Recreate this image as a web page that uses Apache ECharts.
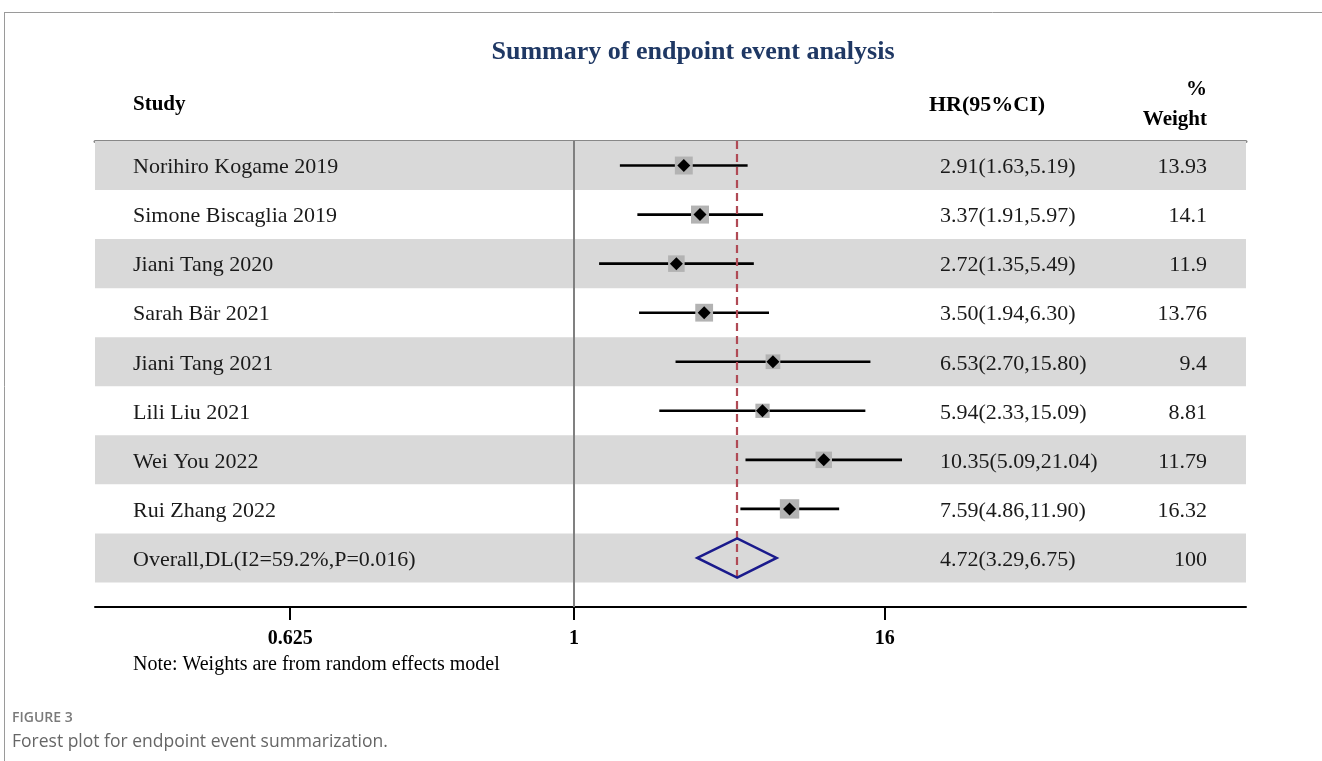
<!DOCTYPE html>
<html>
<head>
<meta charset="utf-8">
<script src="https://cdn.jsdelivr.net/npm/echarts@6/dist/echarts.min.js"></script>
<style>
html,body{margin:0;padding:0;background:#fff;}
#chart{width:1322px;height:761px;}
</style>
</head>
<body>
<div id="chart"></div>
<script>
// ---------------- data ----------------
const studies = ['Norihiro Kogame 2019','Simone Biscaglia 2019','Jiani Tang 2020','Sarah B\u00e4r 2021','Jiani Tang 2021','Lili Liu 2021','Wei You 2022','Rui Zhang 2022','Overall,DL(I2=59.2%,P=0.016)'];
const hr = [2.91, 3.37, 2.72, 3.50, 6.53, 5.94, 10.35, 7.59, 4.72];
const lo = [1.63, 1.91, 1.35, 1.94, 2.70, 2.33, 5.09, 4.86, 3.29];
const hi = [5.19, 5.97, 5.49, 6.30, 15.80, 15.09, 21.04, 11.90, 6.75];
const weights = ['13.93','14.1','11.9','13.76','9.4','8.81','11.79','16.32','100'];
// tick labels and where they sit on the (log-HR) axis
const tickLabels = ['0.625','1','16'];
const tickPos = [-2.50, 0.0725, 2.89];

// ---------------- derived ----------------
const nStudy = 8;
const overallIdx = 8;
const ln = Math.log;
const ciData = [];
const sqData = [];
const ptData = [];
for (let i = 0; i < nStudy; i++) {
  ciData.push([ln(lo[i]), ln(hi[i]), i]);
  sqData.push({value: [ln(hr[i]), i], symbolSize: 4.8 * Math.sqrt(parseFloat(weights[i]))});
  ptData.push([ln(hr[i]), i]);
}
const overallData = [[ln(lo[overallIdx]), ln(hr[overallIdx]), ln(hi[overallIdx]), overallIdx]];
const bandData = [];
for (let i = 0; i < studies.length; i += 2) bandData.push([i]);
const rowData = studies.map((s, i) => [i]);
const hrText = hr.map((h, i) => h.toFixed(2) + '(' + lo[i].toFixed(2) + ',' + hi[i].toFixed(2) + ')');

const SERIF = '"Liberation Serif","Times New Roman",serif';
const SANS = '"Open Sans","Noto Sans",sans-serif';
const chart = echarts.init(document.getElementById('chart'));

const option = {
  animation: false,
  title: {
    text: 'Summary of endpoint event analysis',
    left: 688, top: 34, textAlign: 'center',
    textStyle: {fontFamily: SERIF, fontSize: 26, fontWeight: 'bold', color: '#1f3864'}
  },
  grid: {left: 95, right: 76, top: 141, bottom: 154},
  xAxis: [{
    type: 'value', min: -4.27, max: 6.165, position: 'bottom',
    splitLine: {show: false},
    axisLine: {show: true, onZero: false, lineStyle: {color: '#000', width: 2}},
    axisTick: {show: true, customValues: tickPos, length: 13, lineStyle: {color: '#000', width: 2}},
    axisLabel: {
      show: true, customValues: tickPos, margin: 22,
      fontFamily: SERIF, fontSize: 20, fontWeight: 'bold', color: '#000',
      formatter: function (v) {
        let k = 0, best = 1e9;
        tickPos.forEach((p, j) => { if (Math.abs(p - v) < best) { best = Math.abs(p - v); k = j; } });
        return tickLabels[k];
      }
    }
  }, {
    type: 'value', min: -4.27, max: 6.165, position: 'top',
    splitLine: {show: false},
    axisLine: {show: true, onZero: false, lineStyle: {color: '#888', width: 3}},
    axisTick: {show: false}, axisLabel: {show: false}
  }],
  yAxis: {
    type: 'value', inverse: true, min: -0.5, max: 9, show: false
  },
  series: [
    { // alternating row bands
      type: 'custom', silent: true, z: 1,
      data: bandData,
      renderItem: function (params, api) {
        const cs = params.coordSys;
        const r = api.value(0);
        const y0 = api.coord([0, r - 0.5])[1];
        const y1 = api.coord([0, r + 0.5])[1];
        return {type: 'rect', shape: {x: cs.x, y: y0, width: cs.width, height: y1 - y0},
                style: {fill: '#d9d9d9'}};
      }
    },
    { // null line + overall dashed line
      type: 'line', data: [], z: 2,
      markLine: {
        silent: true, symbol: 'none', label: {show: false},
        data: [
          [{coord: [tickPos[1], -0.5], lineStyle: {color: '#808080', width: 2, type: 'solid'}},
           {coord: [tickPos[1], 9]}],
          [{coord: [ln(hr[overallIdx]), -0.5], lineStyle: {color: '#b04a55', width: 2.2, type: [8, 5]}},
           {coord: [ln(hr[overallIdx]), 8.5]}]
        ]
      }
    },
    { // confidence intervals
      type: 'custom', z: 3,
      data: ciData,
      encode: {x: [0, 1], y: 2},
      renderItem: function (params, api) {
        const a = api.coord([api.value(0), api.value(2)]);
        const b = api.coord([api.value(1), api.value(2)]);
        return {type: 'line', shape: {x1: a[0], y1: a[1], x2: b[0], y2: b[1]},
                style: {stroke: '#000', lineWidth: 2.6}};
      }
    },
    { // weight squares
      type: 'scatter', symbol: 'rect', z: 4, silent: true,
      itemStyle: {color: '#b3b3b3', opacity: 1},
      data: sqData
    },
    { // point estimates
      type: 'scatter', symbol: 'diamond', symbolSize: 13, z: 5, silent: true,
      itemStyle: {color: '#000', opacity: 1},
      data: ptData
    },
    { // overall diamond
      type: 'custom', z: 5,
      data: overallData,
      encode: {x: [0, 2], y: 3},
      renderItem: function (params, api) {
        const r = api.value(3);
        const l = api.coord([api.value(0), r]);
        const t = api.coord([api.value(1), r - 0.4]);
        const rr = api.coord([api.value(2), r]);
        const b = api.coord([api.value(1), r + 0.4]);
        return {type: 'polygon', shape: {points: [l, t, rr, b]},
                style: {fill: 'none', stroke: '#1a1a8c', lineWidth: 2.5}};
      }
    },
    { // row texts
      type: 'custom', z: 6, silent: true,
      data: rowData,
      renderItem: function (params, api) {
        const i = api.value(0);
        const y = api.coord([0, i])[1] + 2;
        const st = {fontFamily: SERIF, fontSize: 22, fill: '#1a1a1a', verticalAlign: 'middle'};
        return {type: 'group', children: [
          {type: 'text', x: 133, y: y, style: Object.assign({text: studies[i], align: 'left'}, st)},
          {type: 'text', x: 940, y: y, style: Object.assign({text: hrText[i], align: 'left'}, st)},
          {type: 'text', x: 1207, y: y, style: Object.assign({text: weights[i], align: 'right'}, st)}
        ]};
      }
    }
  ],
  graphic: [
    {type: 'line', shape: {x1: 4, y1: 12.5, x2: 1322, y2: 12.5}, style: {stroke: '#9a9a9a', lineWidth: 1}},
    {type: 'line', shape: {x1: 4.5, y1: 12, x2: 4.5, y2: 761}, style: {stroke: '#9a9a9a', lineWidth: 1}},
    {type: 'text', x: 133, y: 105, style: {text: 'Study', fontFamily: SERIF, fontSize: 21, fontWeight: 'bold', fill: '#000', align: 'left', verticalAlign: 'middle'}},
    {type: 'text', x: 929, y: 105, style: {text: 'HR(95%CI)', fontFamily: SERIF, fontSize: 22, fontWeight: 'bold', fill: '#000', align: 'left', verticalAlign: 'middle'}},
    {type: 'text', x: 1207, y: 90, style: {text: '%', fontFamily: SERIF, fontSize: 21, fontWeight: 'bold', fill: '#000', align: 'right', verticalAlign: 'middle'}},
    {type: 'text', x: 1207, y: 120, style: {text: 'Weight', fontFamily: SERIF, fontSize: 21, fontWeight: 'bold', fill: '#000', align: 'right', verticalAlign: 'middle'}},
    {type: 'text', x: 133, y: 665, style: {text: 'Note: Weights are from random effects model', fontFamily: SERIF, fontSize: 20, fill: '#000', align: 'left', verticalAlign: 'middle'}},
    {type: 'text', x: 12, y: 718, style: {text: 'FIGURE 3', fontFamily: SANS, fontSize: 14, fontWeight: 600, fill: '#7a7a7a', align: 'left', verticalAlign: 'middle'}},
    {type: 'text', x: 12, y: 742, style: {text: 'Forest plot for endpoint event summarization.', fontFamily: SANS, fontSize: 17.5, fill: '#666', align: 'left', verticalAlign: 'middle'}}
  ]
};
chart.setOption(option);
</script>
</body>
</html>
